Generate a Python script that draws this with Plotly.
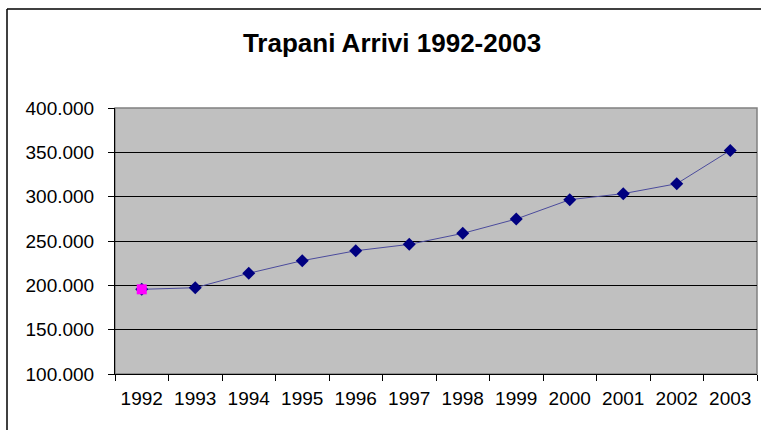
import plotly.graph_objects as go

years = ["1992", "1993", "1994", "1995", "1996", "1997", "1998", "1999", "2000", "2001", "2002", "2003"]
arrivi = [195500, 197300, 213600, 227800, 239000, 246200, 258600, 274800, 296600, 303400, 314600, 352200]
highlight_year = ["1992"]
highlight_value = [195500]
y_ticks = [100000, 150000, 200000, 250000, 300000, 350000, 400000]
y_tick_labels = ["100.000", "150.000", "200.000", "250.000", "300.000", "350.000", "400.000"]
title_text = "<b>Trapani Arrivi 1992-2003</b>"

W, H = 761, 430
L, R, T, B = 115, 757, 108, 374

fig = go.Figure()
fig.add_trace(go.Scatter(
    x=years, y=arrivi, mode="lines+markers",
    line=dict(color="#4b4b9c", width=1),
    marker=dict(symbol="diamond", size=10, color="#000080", line=dict(width=0)),
    showlegend=False, hoverinfo="x+y",
))
fig.add_trace(go.Scatter(
    x=highlight_year, y=highlight_value, mode="markers",
    marker=dict(symbol="square", size=10, color="#FF00FF", line=dict(width=0)),
    showlegend=False,
))

pw, ph = R - L, B - T
def px_x(p):
    return (p - L) / pw
def px_y(p):
    return (B - p) / ph

# plot-area border (gray)
fig.add_shape(type="rect", xref="paper", yref="paper", x0=0, x1=1, y0=0, y1=1,
              line=dict(color="#808080", width=1.5), layer="between")
# chart-area border (black), left and top visible
fig.add_shape(type="line", xref="paper", yref="paper",
              x0=px_x(7), x1=px_x(775), y0=px_y(9), y1=px_y(9),
              line=dict(color="#000000", width=1.5), layer="above")
fig.add_shape(type="line", xref="paper", yref="paper",
              x0=px_x(7), x1=px_x(7), y0=px_y(445), y1=px_y(9),
              line=dict(color="#000000", width=1.5), layer="above")

fig.update_layout(
    width=W, height=H,
    margin=dict(l=L, r=W - R, t=T, b=H - B, pad=0),
    paper_bgcolor="white", plot_bgcolor="#C0C0C0",
    font=dict(family="Liberation Sans, Arial, sans-serif", color="#000000", size=19),
    title=dict(text=title_text, x=392 / W, xanchor="center", y=1 - 43 / H, yanchor="middle",
               font=dict(size=26, family="Liberation Sans, Arial, sans-serif", color="#000000")),
    xaxis=dict(type="category", categoryorder="array", categoryarray=years,
               showgrid=False, zeroline=False, showline=True, linecolor="#000000", linewidth=1,
               ticks="outside", ticklen=6, tickcolor="#000000", tickwidth=1, tickson="boundaries",
               tickfont=dict(size=19), ticklabelstandoff=7, range=[-0.5, 11.5]),
    yaxis=dict(range=[100000, 400000], tickvals=y_ticks, ticktext=y_tick_labels,
               showgrid=True, gridcolor="#000000", gridwidth=1, zeroline=False,
               showline=True, linecolor="#000000", linewidth=1,
               ticks="outside", ticklen=6, tickcolor="#000000", tickwidth=1,
               tickfont=dict(size=19), ticklabelstandoff=10),
)

fig.write_html("out.html", config={"displayModeBar": False},
               post_script="document.body.style.margin='0px';document.body.style.overflow='hidden';")
